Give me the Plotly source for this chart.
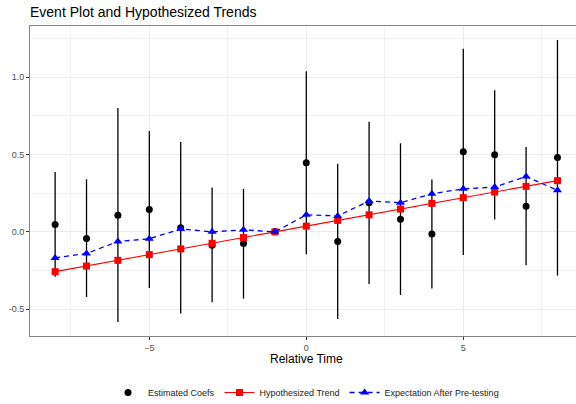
import plotly.graph_objects as go

# Event-study estimates by relative time
rel_time = [-8, -7, -6, -5, -4, -3, -2, -1, 0, 1, 2, 3, 4, 5, 6, 7, 8]
est_coef = [0.048, -0.043, 0.108, 0.145, 0.026, -0.086, -0.075, 0.0, 0.446,
            -0.062, 0.188, 0.082, -0.013, 0.517, 0.498, 0.166, 0.481]
ci_upper = [0.386, 0.339, 0.800, 0.651, 0.580, 0.287, 0.278, 0.0, 1.037,
            0.440, 0.711, 0.572, 0.339, 1.182, 0.915, 0.548, 1.239]
ci_lower = [-0.290, -0.420, -0.582, -0.362, -0.528, -0.455, -0.431, 0.0, -0.144,
            -0.563, -0.336, -0.407, -0.366, -0.149, 0.080, -0.215, -0.282]

# Hypothesized linear trend
hyp_trend = [-0.257, -0.221, -0.184, -0.147, -0.110, -0.074, -0.037, 0.0, 0.037,
             0.074, 0.110, 0.147, 0.184, 0.221, 0.257, 0.294, 0.331]

# Expected coefficients conditional on passing the pre-test
exp_pretest = [-0.168, -0.140, -0.062, -0.045, 0.019, 0.0, 0.013, 0.0, 0.110,
               0.103, 0.199, 0.188, 0.246, 0.278, 0.289, 0.358, 0.268]

err_plus = [u - c for u, c in zip(ci_upper, est_coef)]
err_minus = [c - l for c, l in zip(est_coef, ci_lower)]

FONT = "Liberation Sans, Arial, Helvetica, sans-serif"

fig = go.Figure()

fig.add_trace(go.Scatter(
    x=rel_time, y=est_coef, mode="markers", name="Estimated Coefs",
    marker=dict(color="black", size=7, symbol="circle"),
    error_y=dict(type="data", symmetric=False, array=err_plus, arrayminus=err_minus,
                 color="black", thickness=1.3, width=0),
))

fig.add_trace(go.Scatter(
    x=rel_time, y=hyp_trend, mode="lines+markers", name="Hypothesized Trend",
    line=dict(color="#FF0000", width=1.1),
    marker=dict(color="#FF0000", size=7, symbol="square"),
))

fig.add_trace(go.Scatter(
    x=rel_time, y=exp_pretest, mode="lines+markers", name="Expectation After Pre-testing",
    line=dict(color="#0000FF", width=1.3, dash="5px,4px"),
    marker=dict(color="#0000FF", size=8, symbol="triangle-up"),
))

axis_common = dict(
    showgrid=True, gridcolor="#EBEBEB", gridwidth=1.1,
    zeroline=False,
    ticks="outside", ticklen=3, tickcolor="#333333", tickwidth=1,
    tickfont=dict(family=FONT, size=9, color="#4D4D4D"),
    showline=True, linecolor="#858585", linewidth=1,
)

fig.update_layout(
    width=576, height=404,
    margin=dict(l=30, r=0, t=26, b=68, autoexpand=False),
    paper_bgcolor="white", plot_bgcolor="white",
    font=dict(family=FONT, color="black"),
    title=dict(text="Event Plot and Hypothesized Trends",
               font=dict(family=FONT, size=14, color="black"),
               xref="container", x=30 / 576, xanchor="left",
               yref="container", y=1 - 12.5 / 404, yanchor="middle"),
    xaxis=dict(range=[-8.8, 8.59], tickmode="array", tickvals=[-5, 0, 5],
               mirror=True,
               minor=dict(dtick=2.5, tick0=0, showgrid=True, gridcolor="#F2F2F2",
                          gridwidth=0.6, ticks=""),
               **axis_common),
    yaxis=dict(range=[-0.6726, 1.3297], tickmode="array", tickvals=[-0.5, 0, 0.5, 1.0],
               ticktext=["-0.5", "0.0", "0.5", "1.0"],
               minor=dict(dtick=0.25, tick0=0, showgrid=True, gridcolor="#F2F2F2",
                          gridwidth=0.6, ticks=""),
               **axis_common),
    showlegend=True,
    legend=dict(orientation="h", xref="paper", x=(306 - 30) / 546, xanchor="center",
                yref="container", y=1 - 392.5 / 404, yanchor="middle",
                font=dict(family=FONT, size=9, color="#1A1A1A"),
                itemwidth=30, bgcolor="rgba(0,0,0,0)"),
    annotations=[dict(text="Relative Time", xref="x", x=0, yref="paper",
                      y=(335.7 - 358.7) / 309.7, yanchor="middle", showarrow=False,
                      font=dict(family=FONT, size=12, color="black"))],
)

fig.write_html("out.html")
